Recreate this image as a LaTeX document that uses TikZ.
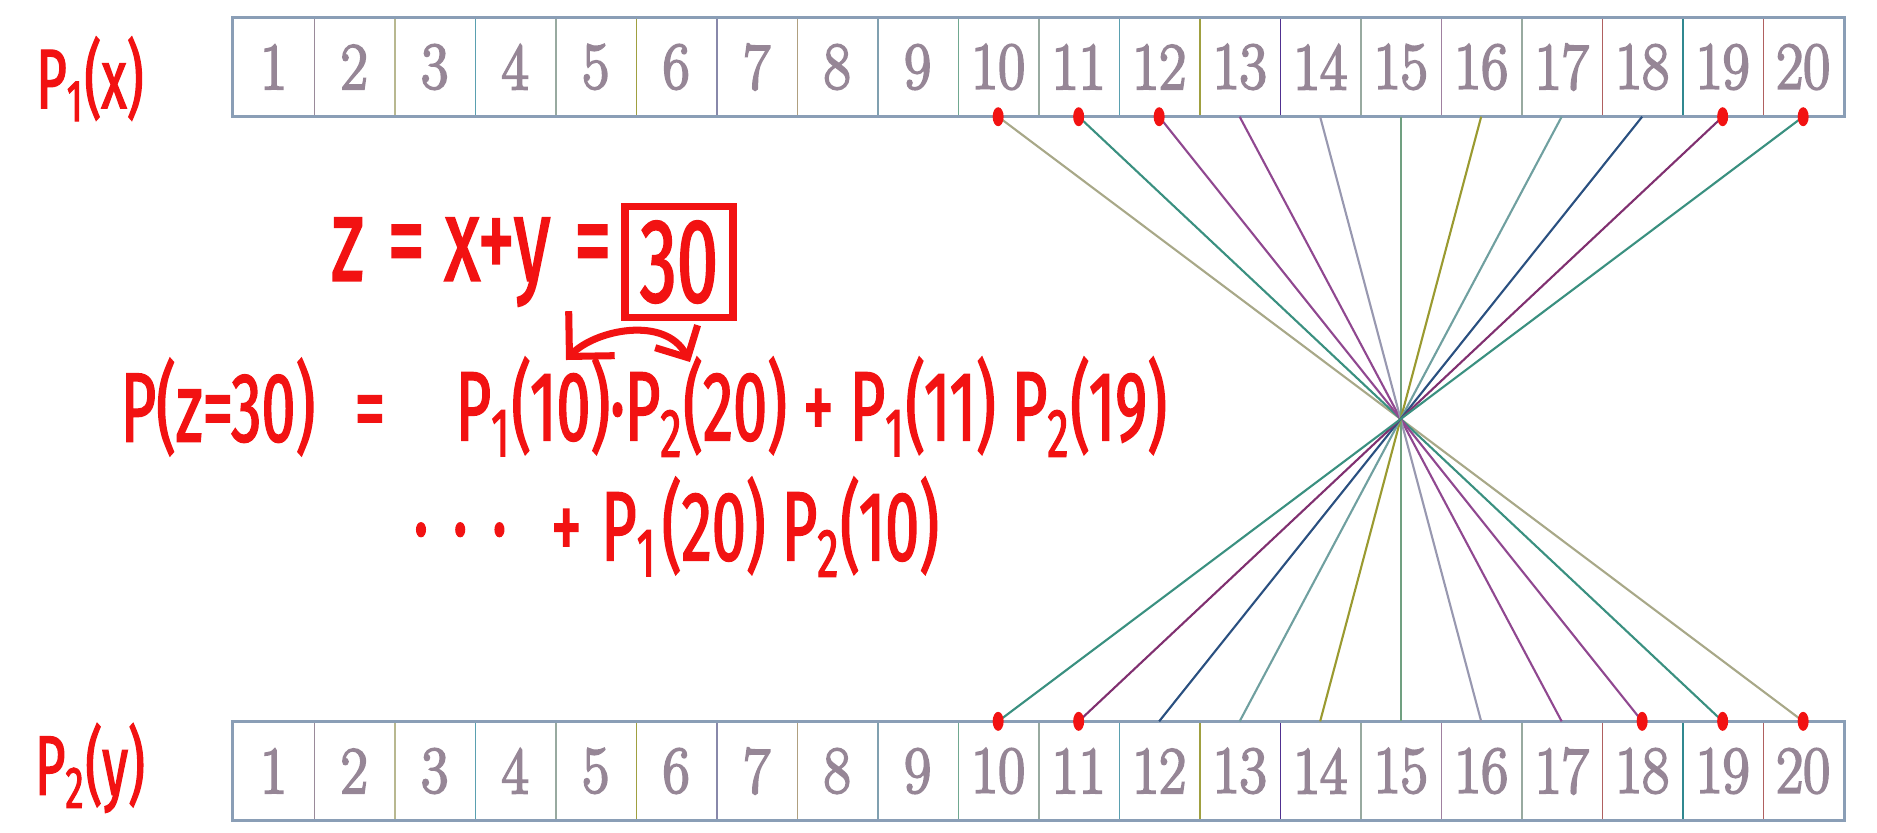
\documentclass[tikz,border=0pt]{standalone}
\usepackage{fontspec}
\usetikzlibrary{arrows.meta}

\newfontfamily\handfont[FakeStretch=0.62, FakeBold=1.6]{Fira Sans}
\newfontfamily\numfont[FakeStretch=0.88, FakeBold=3]{Latin Modern Roman}

\definecolor{penred}{HTML}{F21212}
\definecolor{numgray}{HTML}{968696}
\definecolor{framebl}{HTML}{8A9EB6}
% dividers
\definecolor{dvmauve}{HTML}{9A8A9A}
\definecolor{dvkhaki}{HTML}{B8B890}
\definecolor{dvteal}{HTML}{5AA0B0}
\definecolor{dvsage}{HTML}{98AAA0}
\definecolor{dvolive}{HTML}{A0A040}
\definecolor{dvslate}{HTML}{8888AA}
\definecolor{dvtan}{HTML}{B0A080}
\definecolor{dvsteel}{HTML}{80A0B0}
\definecolor{dvsea}{HTML}{70A890}
\definecolor{dvindigo}{HTML}{503090}
\definecolor{dvplum}{HTML}{A080A0}
\definecolor{dvbrick}{HTML}{B06060}
\definecolor{dvdeep}{HTML}{308890}
% connectors
\definecolor{lnkhaki}{HTML}{A8A888}
\definecolor{lnteal}{HTML}{3A9080}
\definecolor{lnpurple}{HTML}{904890}
\definecolor{lnlav}{HTML}{9898B0}
\definecolor{lnleaf}{HTML}{70A080}
\definecolor{lnolive}{HTML}{9A9A30}
\definecolor{lngray}{HTML}{70A0A0}
\definecolor{lnnavy}{HTML}{2A5080}
\definecolor{lnplum}{HTML}{803070}

\tikzset{
	cellbox/.style={minimum width=8.05mm, minimum height=9.8mm, inner sep=0pt,
		text=numgray, font=\numfont\fontsize{19}{22}\selectfont},
	hand/.style={text=penred, inner sep=0pt, font=\handfont\fontsize{#1}{#1}\selectfont},
	hand/.default=28,
}

\newcommand{\cellrow}[2]{
	\foreach \i in {1,...,20}
		\node[cellbox] (#1\i) at ({\rowL+\cellW*(\i-0.5)}, #2) {\i};
	\foreach \i/\c in {1/dvmauve, 2/dvkhaki, 3/dvteal, 4/dvsage, 5/dvolive, 6/dvslate,
		7/dvtan, 8/dvsteel, 9/dvsea, 10/dvsage, 11/dvteal, 12/dvolive, 13/dvindigo,
		14/dvsage, 15/dvplum, 16/dvsage, 17/dvbrick, 18/dvdeep, 19/dvbrick}
		\draw[color=\c, line width=0.45pt] (#1\i.north east) -- (#1\i.south east);
	\draw[framebl, line width=0.9pt] (#11.north west) rectangle (#120.south east);
}

\newcommand{\penmark}[1]{
	\fill[penred] (#1) ellipse (5.5 and 9.5);
}

\begin{document}
\begin{tikzpicture}[x=0.1mm, y=-0.1mm]
\useasboundingbox (0,0) rectangle (1877,832);

\pgfmathsetmacro{\rowL}{233.4}
\pgfmathsetmacro{\cellW}{80.5}

\cellrow{top}{67}
\cellrow{bot}{771}

\foreach \i/\c in {10/lnkhaki, 11/lnteal, 12/lnpurple, 13/lnpurple, 14/lnlav, 15/lnleaf,
	16/lnolive, 17/lngray, 18/lnnavy, 19/lnplum, 20/lnteal}{
	\pgfmathtruncatemacro{\j}{30-\i}
	\draw[color=\c, line width=0.6pt] (top\i.south) -- (bot\j.north);
}

\foreach \i in {10,11,12,19,20} {\penmark{top\i.south}}
\foreach \i in {10,11,18,19,20} {\penmark{bot\i.north}}

% handwriting
\node[hand=24] (pone) at (90,79) {P\textsubscript{1}(x)};
\node[hand=24] (ptwo) at (90,768) {P\textsubscript{2}(y)};

\node[hand=34, draw=penred, line width=2pt, minimum width=10.8mm, minimum height=11.1mm]
	(sum) at (679,262) {30};
\node[hand=34, anchor=east] (zeq) at (612,262) {z\hspace{0.2em}= x+y\hspace{0.2em}=};

\node[hand, anchor=west] (lhs) at (120,407) {P(z=30)\hspace{0.4em}=};
\node[hand, anchor=west] (rhsA) at (455,407)
	{P\textsubscript{1}(10)\textperiodcentered P\textsubscript{2}(20) + P\textsubscript{1}(11) P\textsubscript{2}(19)};
\node[hand, anchor=west] (rhsB) at (413,527)
	{\textperiodcentered\hspace{0.25em}\textperiodcentered\hspace{0.25em}\textperiodcentered\hspace{0.45em}+\hspace{0.2em}P\textsubscript{1}\hspace{0.05em}(20) P\textsubscript{2}(10)};

\coordinate (arrL) at (566,360);
\coordinate (arrR) at (690,362);
\draw[penred, line width=2pt, {Straight Barb[length=3.2mm]}-{Straight Barb[length=2.4mm]}]
	(arrL) .. controls (595,330) and (665,315) .. (arrR);
\end{tikzpicture}
\end{document}
